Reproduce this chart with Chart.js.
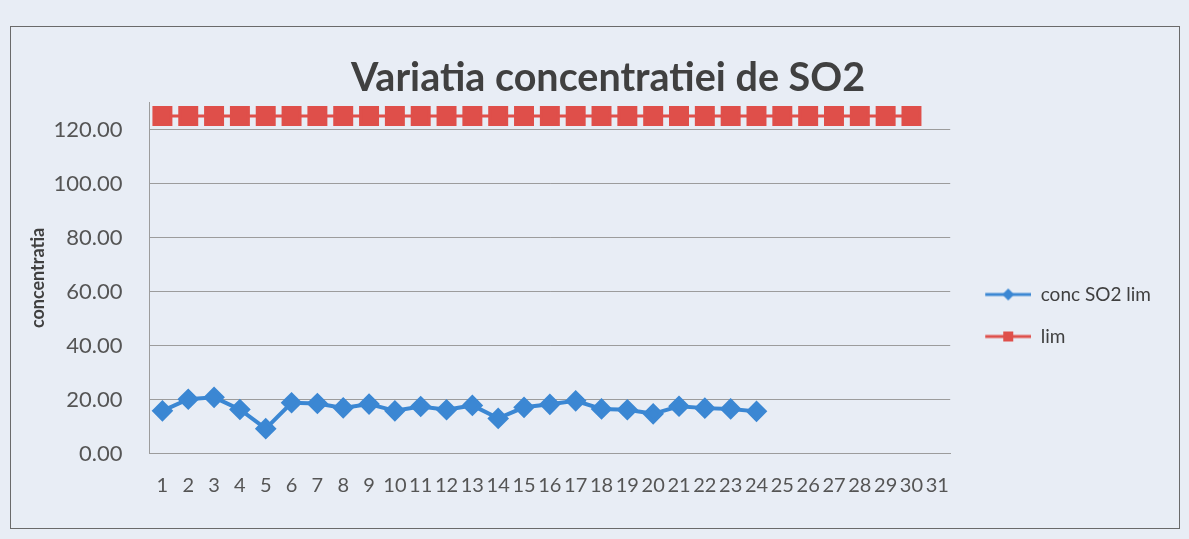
<!DOCTYPE html>
<html>
<head>
<meta charset="utf-8">
<title>Variatia concentratiei de SO2</title>
<script src="https://cdn.jsdelivr.net/npm/chart.js@4.4.1/dist/chart.umd.min.js"></script>
<style>
  html, body { margin: 0; padding: 0; background: #e8edf5; }
  #frame {
    position: absolute; left: 10px; top: 26px;
    width: 1170px; height: 503px;
    border: 1.5px solid #6a6a6a; box-sizing: border-box;
  }
  canvas { display: block; }
</style>
</head>
<body>
<div id="frame"><canvas id="chart" width="1167" height="500"></canvas></div>
<script>
// days of the month (category axis)
const days = ['1', '2', '3', '4', '5', '6', '7', '8', '9', '10',
  '11', '12', '13', '14', '15', '16', '17', '18', '19', '20',
  '21', '22', '23', '24', '25', '26', '27', '28', '29', '30', '31'];

// measured SO2 concentration, days 1-24
const concSO2 = [15.8, 20.1, 20.8, 16.3, 9.2, 18.8, 18.5, 16.9, 18.3, 15.8,
  17.4, 16.2, 17.8, 13.0, 17.1, 18.2, 19.5, 16.5, 16.2, 14.7,
  17.5, 16.8, 16.5, 15.6];

// limit value, days 1-30
const limValues = [125, 125, 125, 125, 125, 125, 125, 125, 125, 125,
  125, 125, 125, 125, 125, 125, 125, 125, 125, 125,
  125, 125, 125, 125, 125, 125, 125, 125, 125, 125];

const yTicks = [0, 20, 40, 60, 80, 100, 120];

const BLUE = '#3b87d3';
const RED = '#df4f4a';
const TEXT = '#404040';
const GRID = '#9c9c9c';

// small legend swatch: line with the series marker in the middle
function legendSwatch(color, marker) {
  const c = document.createElement('canvas');
  c.width = 58;
  c.height = 20;
  const g = c.getContext('2d');
  g.strokeStyle = color;
  g.lineWidth = 3;
  g.beginPath();
  g.moveTo(12, 10);
  g.lineTo(58, 10);
  g.stroke();
  g.fillStyle = color;
  g.beginPath();
  if (marker === 'diamond') {
    g.moveTo(35, 4); g.lineTo(41, 10); g.lineTo(35, 16); g.lineTo(29, 10);
  } else {
    g.rect(30, 5, 10, 10);
  }
  g.closePath();
  g.fill();
  return c;
}

const swatches = [legendSwatch(BLUE, 'diamond'), legendSwatch(RED, 'square')];

// Excel centres the title a bit right of the canvas middle
const titleShift = {
  id: 'titleShift',
  afterLayout(chart) {
    if (chart.titleBlock) chart.titleBlock.left += 44;
  }
};

const ctx = document.getElementById('chart').getContext('2d');

new Chart(ctx, {
  type: 'line',
  data: {
    labels: days,
    datasets: [
      {
        label: 'conc SO2 lim',
        data: concSO2,
        borderColor: BLUE,
        backgroundColor: BLUE,
        borderWidth: 4,
        pointStyle: 'rectRot',
        pointRadius: 8,
        pointHoverRadius: 8,
        tension: 0
      },
      {
        label: 'lim',
        data: limValues,
        borderColor: RED,
        backgroundColor: RED,
        borderWidth: 3,
        pointStyle: 'rect',
        pointRadius: 12,
        pointHoverRadius: 12,
        tension: 0
      }
    ]
  },
  plugins: [titleShift],
  options: {
    responsive: false,
    animation: false,
    layout: {
      padding: { left: 0, right: 17, top: 0, bottom: 0 }
    },
    plugins: {
      title: {
        display: true,
        text: 'Variatia concentratiei de SO2',
        color: TEXT,
        font: { family: 'Lato', size: 39.5, weight: 'bold' },
        padding: { top: 28, bottom: 0 }
      },
      legend: {
        position: 'right',
        align: 'start',
        title: {
          display: true,
          text: ' ',
          font: { size: 10 },
          padding: { top: 223, bottom: 0 }
        },
        labels: {
          usePointStyle: true,
          pointStyleWidth: 58,
          padding: 23,
          color: TEXT,
          font: { family: 'Lato', size: 19 },
          generateLabels: (chart) => chart.data.datasets.map((ds, i) => ({
            text: ds.label,
            pointStyle: swatches[i],
            fillStyle: ds.borderColor,
            strokeStyle: ds.borderColor,
            lineWidth: 0,
            fontColor: TEXT,
            datasetIndex: i,
            hidden: false
          }))
        }
      },
      tooltip: { enabled: false }
    },
    scales: {
      x: {
        offset: true,
        grid: { display: false },
        border: { display: true, color: GRID, width: 1 },
        ticks: {
          autoSkip: false,
          maxRotation: 0,
          minRotation: 0,
          padding: 12,
          color: '#555555',
          font: { family: 'Lato', size: 20 }
        },
        afterFit: (scale) => { scale.height = 73.5; }
      },
      y: {
        min: 0,
        max: 130,
        afterBuildTicks: (scale) => {
          scale.ticks = yTicks.map(v => ({ value: v }));
        },
        afterFit: (scale) => { scale.width = 138.5; },
        grid: { color: GRID, lineWidth: 1, drawTicks: false },
        border: { display: true, color: GRID, width: 1 },
        ticks: {
          padding: 27,
          color: '#555555',
          font: { family: 'Lato', size: 22 },
          callback: (v) => Number(v).toFixed(2)
        },
        title: {
          display: true,
          text: 'concentratia',
          color: TEXT,
          font: { family: 'Lato', size: 18, weight: 'bold' },
          padding: { top: 16, bottom: 0 }
        }
      }
    }
  }
});
</script>
</body>
</html>
